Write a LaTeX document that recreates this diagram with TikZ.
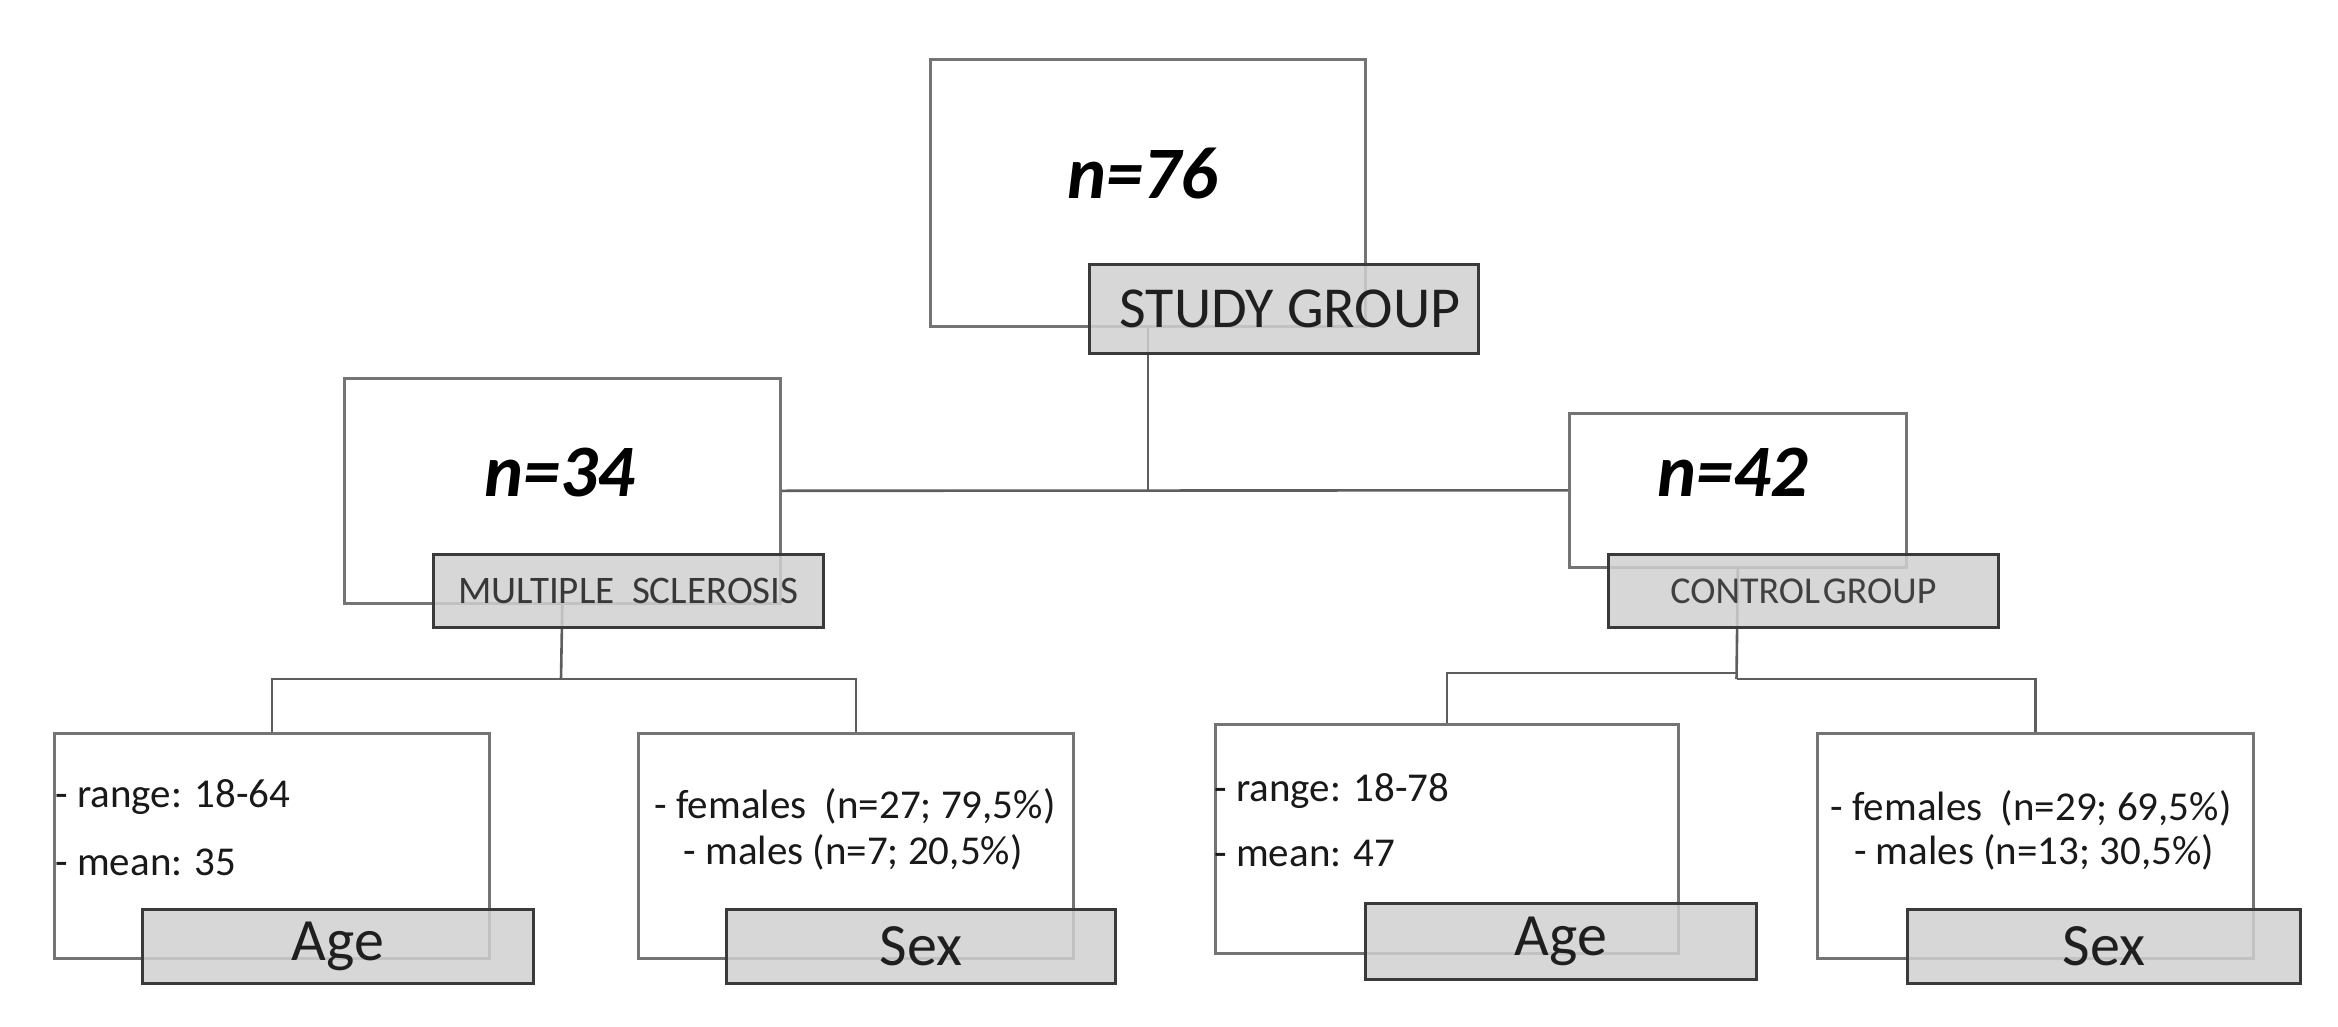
\documentclass[tikz,border=0pt]{standalone}
\usepackage{fontspec}
\setmainfont{Carlito}
\definecolor{boxline}{HTML}{747474}
\definecolor{labline}{HTML}{3A3A3A}
\definecolor{labfill}{HTML}{D0D0D0}
\definecolor{connc}{HTML}{5E5E5E}
\tikzset{
  wbox/.style={draw=boxline, line width=1.3pt, fill=white, inner sep=0pt, anchor=north west},
  lbox/.style={draw=labline, line width=1.4pt, fill=labfill, fill opacity=0.85, text opacity=1, inner sep=0pt, anchor=north west, text=black!88},
  connline/.style={draw=connc, line width=1.3pt},
  bignum/.style={font=\fontsize{37}{40}\selectfont\bfseries\itshape, inner sep=0pt},
  smalltxt/.style={font=\fontsize{20.5}{24}\selectfont, inner sep=0pt, text=black!90},
  cattxt/.style={font=\fontsize{30}{34}\selectfont},
}
\begin{document}
\begin{tikzpicture}[x=0.5pt,y=-0.5pt]
\useasboundingbox[fill=white] (0,0) rectangle (2338,1027);

% white boxes
\node[wbox, minimum width=217.5pt, minimum height=133.5pt] (top) at (929,58) {};
\node[wbox, minimum width=218pt, minimum height=112.5pt] (ms) at (343,377) {};
\node[wbox, minimum width=168.5pt, minimum height=77pt] (cg) at (1568,412) {};
\node[wbox, minimum width=217.5pt, minimum height=112.5pt] (agems) at (53,732) {};
\node[wbox, minimum width=217.5pt, minimum height=112.5pt] (sexms) at (637,732) {};
\node[wbox, minimum width=231.5pt, minimum height=114.5pt] (agecg) at (1214,723) {};
\node[wbox, minimum width=218pt, minimum height=112.5pt] (sexcg) at (1816,732) {};

% big numbers
\node[bignum] (n76) at (1143,174) {n=76};
\node[bignum] (n34) at (560,473) {n=34};
\node[bignum] (n42) at (1733,472) {n=42};

% connectors
\draw[connline] (top.south) -- (top.south |- ms.east);
\draw[connline] (ms.east) -- (cg.west);
\coordinate (msj) at (561,679);
\draw[connline] (ms.south) -- (msj);
\draw[connline] (agems.north) -- (agems.north |- msj) -- (sexms.north |- msj) -- (sexms.north);
\coordinate (cgj) at (1736.5,673);
\coordinate (cgk) at (1736.5,679);
\draw[connline] (cg.south) -- (cgk);
\draw[connline] (cgj) -- (agecg.north |- cgj) -- (agecg.north);
\draw[connline] (cgk) -- (sexcg.north |- cgk) -- (sexcg.north);

% labels
\node[lbox, minimum width=194.5pt, minimum height=44.5pt, font=\fontsize{29}{32}\selectfont] (studylab) at (1088,263) {\hspace{6pt}STUDY GROUP};
\node[lbox, minimum width=195pt, minimum height=36.5pt, font=\fontsize{19.5}{22}\selectfont, text=black!78] (mslab) at (432,553) {MULTIPLE\hspace{0.45em}SCLEROSIS};
\node[lbox, minimum width=195pt, minimum height=36.5pt, font=\fontsize{19}{22}\selectfont, text=black!75] (cglab) at (1607,553) {CONTROL\hspace{0.08em}GROUP};
\node[lbox, minimum width=195.5pt, minimum height=37pt, cattxt] (agemslab) at (141,908) {Age};
\node[lbox, minimum width=194.5pt, minimum height=37pt, cattxt] (sexmslab) at (725,908) {Sex};
\node[lbox, minimum width=195.5pt, minimum height=38pt, cattxt] (agecglab) at (1364,902) {Age};
\node[lbox, minimum width=196.5pt, minimum height=37pt, cattxt] (sexcglab) at (1906,908) {Sex};

% details
\node[smalltxt, anchor=west] (rangems) at (55,797) {- range: 18-64};
\node[smalltxt, anchor=west] (meanms) at (55,862) {- mean: 35};
\node[smalltxt] (femms) at (855,806) {- females\hspace{0.45em}(n=27; 79,5\%)};
\node[smalltxt] (malems) at (853,852) {- males (n=7; 20,5\%)};
\node[smalltxt, anchor=west] (rangecg) at (1214,791) {- range: 18-78};
\node[smalltxt, anchor=west] (meancg) at (1214,853) {- mean: 47};
\node[smalltxt] (femcg) at (2031,808) {- females\hspace{0.45em}(n=29; 69,5\%)};
\node[smalltxt] (malecg) at (2034,852) {- males (n=13; 30,5\%)};
\end{tikzpicture}
\end{document}
